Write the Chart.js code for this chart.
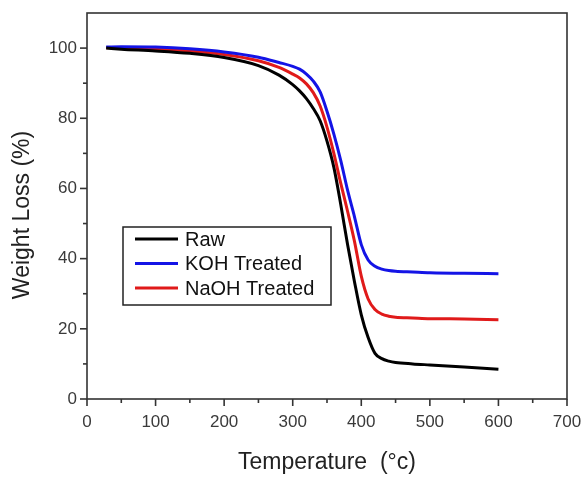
<!DOCTYPE html>
<html>
<head>
<meta charset="utf-8">
<script src="https://cdn.jsdelivr.net/npm/chart.js@4.4.1/dist/chart.umd.min.js"></script>
<style>
  html, body { margin: 0; padding: 0; background: #fff; }
  #wrap { width: 582px; height: 477px; }
</style>
</head>
<body>
<div id="wrap"><canvas id="myChart" width="582" height="477"></canvas></div>
<script>
// Temperatur (°C) und Gewicht (%) je Probe
const temps = [28, 50, 100, 150, 200, 250, 280, 300, 310, 320, 330, 340, 350, 360, 370, 380, 390, 400, 410, 420, 430, 440, 450, 475, 500, 550, 600];
const rawValues  = [100.0, 99.7, 99.2, 98.5, 97.3, 95.0, 92.3, 89.6, 87.8, 85.6, 82.8, 79.3, 73.5, 66.0, 55.5, 44.0, 33.5, 24.0, 17.5, 13.0, 11.5, 10.8, 10.4, 10.0, 9.7, 9.1, 8.5];
const kohValues  = [100.3, 100.4, 100.3, 99.8, 98.9, 97.4, 95.9, 94.8, 94.0, 92.6, 90.6, 87.5, 82.0, 75.5, 68.0, 59.5, 52.0, 44.0, 39.6, 37.8, 37.0, 36.6, 36.4, 36.2, 36.0, 35.8, 35.7];
const naohValues = [100.1, 100.1, 99.7, 99.2, 98.2, 96.4, 94.5, 92.6, 91.5, 89.8, 87.3, 83.5, 77.5, 70.0, 61.5, 53.5, 45.0, 35.0, 28.5, 25.5, 24.2, 23.6, 23.3, 23.1, 22.9, 22.8, 22.6];

const seriesLabels = ["Raw", "KOH Treated", "NaOH Treated"];
const seriesColors = ["#000000", "#1414e6", "#e01a1a"];

const xTickValues = [0, 100, 200, 300, 400, 500, 600, 700];
const yTickValues = [0, 20, 40, 60, 80, 100];

const xTitle = "Temperature  (°c)";
const yTitle = "Weight Loss (%)";

const fontName = "'Liberation Sans', Arial, sans-serif";
const axisColor = "#333333";

function toPoints(values) {
    return temps.map((t, i) => ({ x: t, y: values[i] }));
}

// Rahmen, kleine und grosse Striche, y-Titel, Legende
const framePlugin = {
    id: "frame",
    afterDraw(chart) {
        const ctx = chart.ctx;
        const area = chart.chartArea;
        const xs = chart.scales.x;
        const ys = chart.scales.y;

        ctx.save();
        ctx.strokeStyle = axisColor;
        ctx.lineWidth = 1.6;
        ctx.strokeRect(area.left, area.top, area.right - area.left, area.bottom - area.top);

        // x-Striche
        for (let v = 0; v <= 700; v += 50) {
            const px = xs.getPixelForValue(v);
            const len = v % 100 === 0 ? 7 : 4;
            ctx.beginPath();
            ctx.moveTo(px, area.bottom);
            ctx.lineTo(px, area.bottom + len);
            ctx.stroke();
        }
        // y-Striche
        for (let v = 0; v <= 100; v += 10) {
            const py = ys.getPixelForValue(v);
            const len = v % 20 === 0 ? 7 : 4;
            ctx.beginPath();
            ctx.moveTo(area.left, py);
            ctx.lineTo(area.left - len, py);
            ctx.stroke();
        }

        // y-Titel (etwas unter der Mitte wie im Original)
        ctx.save();
        ctx.translate(23, 215);
        ctx.rotate(-Math.PI / 2);
        ctx.font = "23px " + fontName;
        ctx.fillStyle = "#222";
        ctx.textAlign = "center";
        ctx.textBaseline = "middle";
        ctx.fillText(yTitle, 0, 0);
        ctx.restore();

        // Legende
        const boxX = 123, boxY = 227, boxW = 208, boxH = 78;
        ctx.fillStyle = "#ffffff";
        ctx.fillRect(boxX, boxY, boxW, boxH);
        ctx.strokeStyle = "#222";
        ctx.lineWidth = 1.5;
        ctx.strokeRect(boxX, boxY, boxW, boxH);
        ctx.font = "20px " + fontName;
        ctx.textBaseline = "middle";
        chart.data.datasets.forEach((ds, i) => {
            const y = boxY + 12 + i * 24.5;
            ctx.strokeStyle = ds.borderColor;
            ctx.lineWidth = 3;
            ctx.beginPath();
            ctx.moveTo(boxX + 12, y);
            ctx.lineTo(boxX + 55, y);
            ctx.stroke();
            ctx.fillStyle = "#111";
            ctx.fillText(ds.label, boxX + 62, y + 1);
        });
        ctx.restore();
    }
};

const ctx = document.getElementById("myChart").getContext("2d");

let chart = new Chart(ctx, {
    type: "line",
    data: {
        datasets: [
            { label: seriesLabels[0], data: toPoints(rawValues), borderColor: seriesColors[0] },
            { label: seriesLabels[1], data: toPoints(kohValues), borderColor: seriesColors[1] },
            { label: seriesLabels[2], data: toPoints(naohValues), borderColor: seriesColors[2] }
        ]
    },
    options: {
        responsive: false,
        animation: false,
        devicePixelRatio: 1,
        layout: { padding: { top: 13, right: 15, left: 0, bottom: 0 } },
        elements: {
            point: { radius: 0 },
            line: { borderWidth: 3, cubicInterpolationMode: "monotone", fill: false }
        },
        plugins: {
            legend: { display: false },
            tooltip: { enabled: false }
        },
        scales: {
            x: {
                type: "linear",
                min: 0,
                max: 700,
                afterFit(scale) {
                    scale.height = 78;
                    scale.paddingLeft = 0;
                    scale.paddingRight = 0;
                },
                afterBuildTicks(scale) { scale.ticks = xTickValues.map(v => ({ value: v })); },
                grid: { display: false, drawTicks: false },
                border: { display: false },
                ticks: { padding: 13, color: "#3a3a3a", font: { family: fontName, size: 17 } },
                title: {
                    display: true,
                    text: xTitle,
                    color: "#222",
                    font: { family: fontName, size: 23 },
                    padding: { top: 0, bottom: 1 }
                }
            },
            y: {
                type: "linear",
                min: 0,
                max: 110,
                afterFit(scale) {
                    scale.width = 87;
                    scale.paddingTop = 0;
                    scale.paddingBottom = 0;
                },
                afterBuildTicks(scale) { scale.ticks = yTickValues.map(v => ({ value: v })); },
                grid: { display: false, drawTicks: false },
                border: { display: false },
                ticks: { padding: 10, color: "#3a3a3a", font: { family: fontName, size: 17 } },
                title: { display: false }
            }
        }
    },
    plugins: [framePlugin]
});
</script>
</body>
</html>
